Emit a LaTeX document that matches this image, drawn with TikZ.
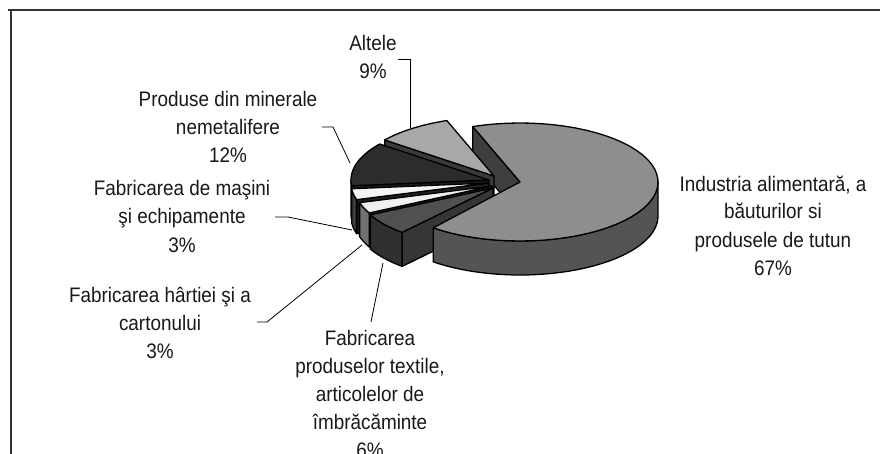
\documentclass[tikz,border=0pt]{standalone}
\usepackage{fontspec}
\setmainfont{Liberation Sans}[FakeStretch=0.9]
\definecolor{bigtop}{HTML}{8E8E8E}
\definecolor{bigside}{HTML}{545454}
\definecolor{bigface}{HTML}{3E3E3E}
\definecolor{alttop}{HTML}{A8A8A8}
\definecolor{altface}{HTML}{3A3A3A}
\definecolor{protop}{HTML}{2C2C2C}
\definecolor{proside}{HTML}{303030}
\definecolor{proface}{HTML}{1A1A1A}
\definecolor{mastop}{HTML}{F5F5F5}
\definecolor{masside}{HTML}{3C3C3C}
\definecolor{masface}{HTML}{202020}
\definecolor{hartop}{HTML}{F0F0F0}
\definecolor{harside}{HTML}{707070}
\definecolor{harface}{HTML}{1C1C1C}
\definecolor{textop}{HTML}{505050}
\definecolor{texside}{HTML}{303030}
\definecolor{texface}{HTML}{363636}
\tikzset{
  pieline/.style={draw=black, line width=1.3pt, line join=round},
  lbl/.style={font=\fontsize{21}{28}\selectfont, align=center, inner sep=0pt, text=black!90, anchor=base},
  leader/.style={draw=black, line width=0.8pt},
  framel/.style={draw=black!80, line width=2pt}
}
% cx cy a1 a2 colour
\newcommand\pietop[5]{%
  \filldraw[pieline, fill=#5] (#1,#2) -- plot[domain=#3:#4, samples=50, variable=\t] ({#1+138*cos(\t)},{#2-59*sin(\t)}) -- cycle;}
\newcommand\pieside[5]{%
  \filldraw[pieline, fill=#5] plot[domain=#3:#4, samples=40, variable=\t] ({#1+138*cos(\t)},{#2-59*sin(\t)}) -- plot[domain=#4:#3, samples=40, variable=\t] ({#1+138*cos(\t)},{#2+34-59*sin(\t)}) -- cycle;}
% cx cy angle colour
\newcommand\pieface[4]{%
  \filldraw[pieline, fill=#4] (#1,#2) -- ({#1+138*cos(#3)},{#2-59*sin(#3)}) -- ({#1+138*cos(#3)},{#2+34-59*sin(#3)}) -- (#1,#2+34) -- cycle;}
\begin{document}
\begin{tikzpicture}[x=1pt, y=-1pt]
\useasboundingbox (0,0) rectangle (880,454);
\fill[white] (0,0) rectangle (880,454);
% frame
\draw[framel] (8,10) -- (880,10);
\draw[framel] (11,10) -- (11,454);

% big slice: radial face behind
\pieface{520}{182}{110}{bigface}
% Altele
\pieface{494}{176}{142.4}{altface}
\pietop{494}{176}{110}{142.4}{alttop}
% Produse din minerale
\pieface{489}{180}{185.6}{proface}
\pieside{489}{180}{180}{185.6}{proside}
\pietop{489}{180}{142.4}{185.6}{protop}
% masini
\pieface{489}{183}{196.4}{masface}
\pieside{489}{183}{185.6}{196.4}{masside}
\pietop{489}{183}{185.6}{196.4}{mastop}
% hartiei
\pieface{492}{186}{207.2}{harface}
\pieside{492}{186}{196.4}{207.2}{harside}
\pietop{492}{186}{196.4}{207.2}{hartop}
% textile
\pieface{493}{188}{228.8}{texface}
\pieside{493}{188}{207.2}{228.8}{texside}
\pietop{493}{188}{207.2}{228.8}{textop}
% big slice front
\pieside{520}{182}{-129}{0}{bigside}
\pietop{520}{182}{-129}{110}{bigtop}

% labels (anchor = baseline of last line)
\node[lbl] (ind) at (773,275) {Industria alimentară, a\\băuturilor si\\produsele de tutun\\67\%};
\node[lbl] (alt) at (373,79) {Altele\\9\%};
\node[lbl] (pro) at (228,163) {Produse din minerale\\nemetalifere\\12\%};
\node[lbl] (mas) at (182,252) {Fabricarea de maşini\\şi echipamente\\3\%};
\node[lbl] (har) at (160,358) {Fabricarea hârtiei şi a\\cartonului\\3\%};
\node[lbl] (tex) at (370,457) {Fabricarea\\produselor textile,\\articolelor de\\îmbrăcăminte\\6\%};

% leader lines
\coordinate (altA) at (398,59);  \coordinate (altB) at (410,59);  \coordinate (altS) at (410,128);
\coordinate (proA) at (322,127); \coordinate (proB) at (333,127); \coordinate (proS) at (350,163);
\coordinate (masA) at (275,217); \coordinate (masB) at (288,217); \coordinate (masS) at (352,230);
\coordinate (harA) at (257,322); \coordinate (harB) at (267,322); \coordinate (harS) at (362,245);
\coordinate (texA) at (371,322); \coordinate (texB) at (373,312); \coordinate (texS) at (383,263);
\draw[leader] (altA) -- (altB) -- (altS);
\draw[leader] (proA) -- (proB) -- (proS);
\draw[leader] (masA) -- (masB) -- (masS);
\draw[leader] (harA) -- (harB) -- (harS);
\draw[leader] (texA) -- (texB) -- (texS);
\end{tikzpicture}
\end{document}
